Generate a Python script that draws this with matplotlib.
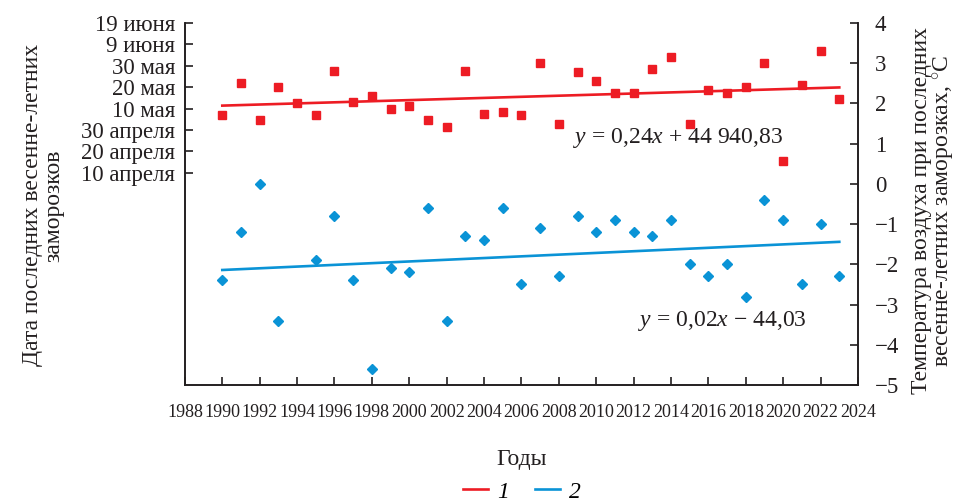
import numpy as np
import matplotlib.pyplot as plt
from matplotlib.lines import Line2D

plt.rcParams['font.family'] = ['Liberation Serif', 'DejaVu Serif']
plt.rcParams['mathtext.fontset'] = 'custom'
plt.rcParams['mathtext.it'] = 'Liberation Serif:italic'
plt.rcParams['mathtext.rm'] = 'Liberation Serif'

# years
years = np.arange(1990, 2024)

# date of last frost, days after 10 April
frost_day = [26.8, 42.2, 24.9, 39.9, 32.4, 26.8, 47.8, 33.3, 35.7, 30.0,
             31.0, 24.9, 21.6, 47.8, 27.7, 28.6, 27.2, 51.1, 23.0, 46.9,
             42.7, 37.5, 37.1, 48.7, 53.9, 23.0, 38.9, 37.5, 40.0, 51.5,
             5.3, 41.0, 57.1, 34.3]

# air temperature during last frost, C
frost_temp = [-2.4, -1.2, 0.0, -3.4, np.nan, -1.9, -0.8, -2.4, -4.6, -2.1,
              -2.2, -0.6, -3.4, -1.3, -1.4, -0.6, -2.5, -1.1, -2.3, -0.8,
              -1.2, -0.9, -1.2, -1.3, -0.9, -2.0, -2.3, -2.0, -2.8, -0.4,
              -0.9, -2.5, -1.0, -2.3]

# trend line ends (1990, 2023)
trend_years = [1990, 2023]
trend_day = [31.4, 39.9]
trend_temp = [-2.14, -1.44]

date_ticks = [0, 10, 20, 30, 40, 50, 60, 70]
date_labels = ['10 апреля', '20 апреля', '30 апреля', '10 мая', '20 мая',
               '30 мая', '9 июня', '19 июня']

red = '#ed1c24'
blue = '#0a93d6'
ink = '#231f20'

fig = plt.figure(figsize=(9.58, 5.01), dpi=100)
ax = fig.add_axes([0.193, 0.2315, 0.7026, 0.7225])
ax2 = ax.twinx()

ax.plot(years, frost_day, 's', color=red, markersize=6, zorder=3)
ax.plot(trend_years, trend_day, '-', color=red, lw=1.9, zorder=2)
ax2.plot(years, frost_temp, 'D', color=blue, markersize=5.5, zorder=3)
ax2.plot(trend_years, trend_temp, '-', color=blue, lw=1.9, zorder=2)

ax.set_xlim(1988, 2024)
ax.set_ylim(-99.2, 70)
ax2.set_ylim(-5, 4)

ax.set_xticks(np.arange(1988, 2025, 2))
ax.set_yticks(date_ticks)
ax.set_yticklabels(date_labels)
ax2.set_yticks(np.arange(-5, 5, 1))

for a in (ax, ax2):
    a.spines['top'].set_visible(False)
    for s in a.spines.values():
        s.set_color(ink)
        s.set_linewidth(1.2)
    a.tick_params(direction='in', length=6, width=1.2, color=ink,
                  labelcolor=ink, labelsize=16.5)
ax.tick_params(axis='x', labelsize=13, pad=14)
ax.tick_params(axis='y', pad=7)
ax2.tick_params(axis='y', pad=12)

fig.text(0.544, 0.082, 'Годы', ha='center', va='center', fontsize=17, color=ink)
fig.text(0.045, 0.59, 'Дата последних весенне-летних\nзаморозков',
         rotation=90, ha='center', va='center', fontsize=17, color=ink,
         linespacing=1.0)
fig.text(0.975, 0.58,
         'Температура воздуха при последних\nвесенне-летних заморозках, $^{\\circ}$C',
         rotation=90, ha='center', va='center', fontsize=17, color=ink,
         linespacing=1.0)

ax.text(2008.77, 14.0, '$y$ = 0,24$x$ + 44 940,83', fontsize=17, color=ink)
ax2.text(2012.24, -3.53, '$y$ = 0,02$x$ − 44,03', fontsize=17, color=ink)

handles = [Line2D([], [], color=red, lw=1.9), Line2D([], [], color=blue, lw=1.9)]
leg = fig.legend(handles, ['1', '2'], loc='center', bbox_to_anchor=(0.545, 0.018),
                 ncol=2, frameon=False, handlelength=1.05, handletextpad=0.4,
                 columnspacing=1.1, prop={'style': 'italic', 'size': 17})

fig.savefig('out.png', dpi=100)
